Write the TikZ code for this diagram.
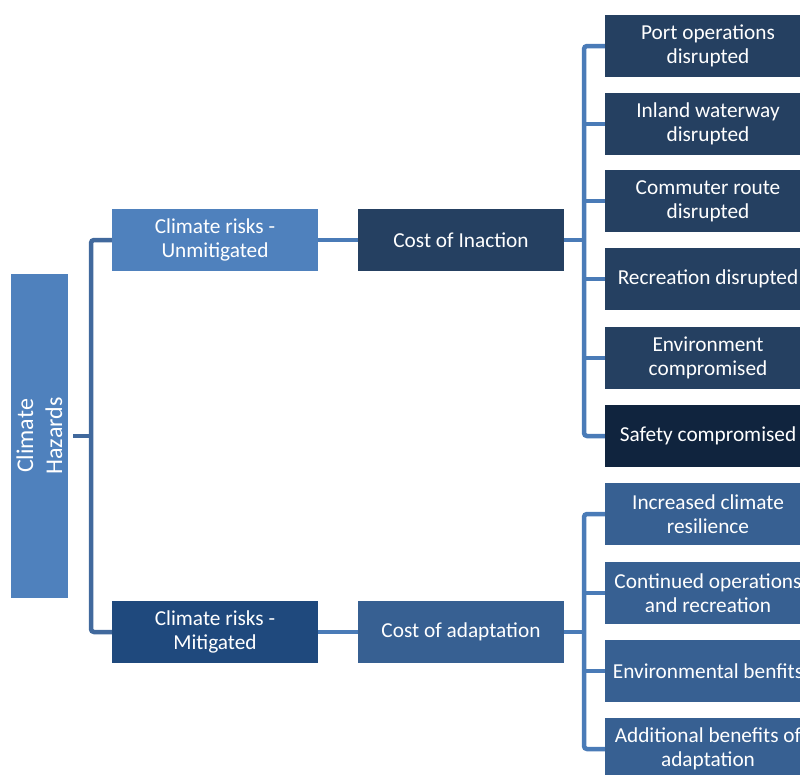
\documentclass[tikz,border=0pt]{standalone}
\usepackage{fontspec}
\setmainfont{Carlito}
\definecolor{cLight}{HTML}{4F81BD}
\definecolor{cMit}{HTML}{1F497D}
\definecolor{cNavy}{HTML}{254061}
\definecolor{cDark}{HTML}{10243E}
\definecolor{cMid}{HTML}{376092}
\definecolor{cLineL}{HTML}{41699D}
\definecolor{cLineR}{HTML}{4A7BB7}
\begin{document}
\begin{tikzpicture}[x=1pt,y=-1pt,
  box/.style={minimum width=206pt,minimum height=62pt,inner sep=0pt,text=white,align=center,
    font=\fontsize{21.3}{24}\selectfont},
  link/.style={line width=4.5pt,rounded corners=3pt}]
\useasboundingbox (0,0) rectangle (800,774);
% left
\node[box,fill=cLight,minimum width=324pt,minimum height=57pt,rotate=90,
  font=\fontsize{24}{29}\selectfont] (haz) at (39.5,436) {Climate\\Hazards};
\node[box,fill=cLight] (unmit) at (215,240) {Climate risks -\\Unmitigated};
\node[box,fill=cMit] (mit) at (215,632) {Climate risks -\\Mitigated};
\node[box,fill=cNavy] (inact) at (461,240) {Cost of Inaction};
\node[box,fill=cMid] (adapt) at (461,632) {Cost of adaptation};
% right top
\node[box,fill=cNavy] (port) at (708,46) {Port operations\\disrupted};
\node[box,fill=cNavy] (inland) at (708,124) {Inland waterway\\disrupted};
\node[box,fill=cNavy] (comm) at (708,201) {Commuter route\\disrupted};
\node[box,fill=cNavy] (recr) at (708,279) {Recreation disrupted};
\node[box,fill=cNavy] (env) at (708,358) {Environment\\compromised};
\node[box,fill=cDark] (safe) at (708,436) {Safety compromised};
% right bottom
\node[box,fill=cMid] (resil) at (708,514) {Increased climate\\resilience};
\node[box,fill=cMid] (cont) at (708,593) {Continued operations\\and recreation};
\node[box,fill=cMid] (envb) at (708,671) {Environmental benfits};
\node[box,fill=cMid] (addb) at (708,749) {Additional benefits of\\adaptation};
% connectors
\coordinate (trunk) at (91,436);
\coordinate (rb1) at (584,240);
\coordinate (rb2) at (584,632);
\draw[link,draw=cLineL] ([xshift=5pt]haz.south) -- (trunk);
\draw[link,draw=cLineL] (unmit.west) -| (trunk) |- (mit.west);
\draw[link,draw=cLineR] (unmit.east) -- (inact.west);
\draw[link,draw=cLineR] (mit.east) -- (adapt.west);
\draw[link,draw=cLineR] (inact.east) -- (rb1);
\draw[link,draw=cLineR] (adapt.east) -- (rb2);
\draw[link,draw=cLineR] (port.west) -| (rb1) |- (safe.west);
\foreach \n in {inland,comm,recr,env}
  \draw[link,draw=cLineR] (\n.west) -- (\n.west -| rb1);
\draw[link,draw=cLineR] (resil.west) -| (rb2) |- (addb.west);
\foreach \n in {cont,envb}
  \draw[link,draw=cLineR] (\n.west) -- (\n.west -| rb2);
\end{tikzpicture}
\end{document}
